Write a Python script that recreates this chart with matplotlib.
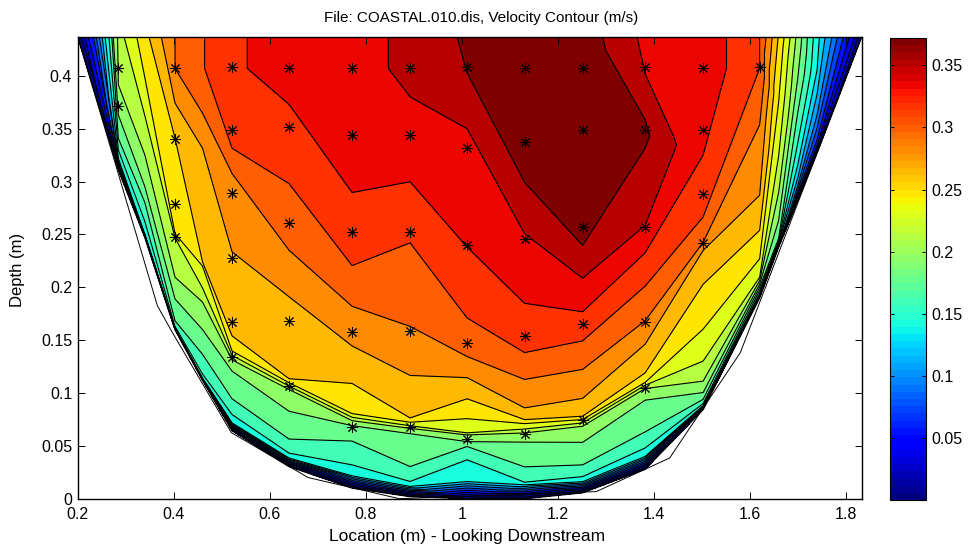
import numpy as np
import matplotlib
matplotlib.use('Agg')
import matplotlib.pyplot as plt
import matplotlib.tri as mtri
import matplotlib.cm as cm
import matplotlib.colors as colors

plt.rcParams['font.family'] = ['Liberation Sans', 'DejaVu Sans']

# contour levels
levels = [-0.001, 0.017, 0.034, 0.05, 0.067, 0.084, 0.101, 0.118, 0.135, 0.152, 0.169, 0.186,
          0.203, 0.22, 0.237, 0.254, 0.27, 0.287, 0.304, 0.321, 0.338, 0.355, 0.38]
line_levels = levels[1:-1]

# velocity along the water surface, left and right of the stations
top_left_x = [0.2, 0.2104, 0.222, 0.2325, 0.245, 0.257, 0.265, 0.271, 0.274]
top_left_v = [0, 0.025, 0.05, 0.067, 0.101, 0.135, 0.152, 0.169, 0.186]
top_mid_x = [0.2965, 0.323, 0.3485, 0.374]
top_mid_v = [0.22, 0.237, 0.254, 0.27]
top_right_x = [1.634, 1.6465, 1.659, 1.6715, 1.684, 1.696, 1.708, 1.72, 1.7325, 1.745, 1.757, 1.771,
               1.7825, 1.795, 1.8075, 1.819, 1.833]
top_right_v = [0.287, 0.27, 0.254, 0.237, 0.22, 0.203, 0.186, 0.169, 0.152, 0.135, 0.118, 0.101,
               0.084, 0.067, 0.05, 0.033, 0]

# depth / velocity pairs per column
x_028, d_028 = 0.2846, [0.437, 0.3916, 0.363, 0.341, 0.33, 0.322, 0.318, 0.314, 0.311]
v_028 = [0.206, 0.203, 0.186, 0.169, 0.152, 0.135, 0.1, 0.05, 0]
x_034, d_034 = 0.34, [0.398, 0.362, 0.325, 0.295, 0.28, 0.262, 0.25, 0.247]
v_034 = [0.237, 0.22, 0.203, 0.186, 0.169, 0.152, 0.135, 0]
x_040, d_040 = 0.4027, [0.437, 0.407, 0.3742, 0.341, 0.2507, 0.2466, 0.2095, 0.1889, 0.1683, 0.163, 0.161, 0.16]
v_040 = [0.287, 0.287, 0.27, 0.254, 0.237, 0.22, 0.203, 0.186, 0.169, 0.152, 0.135, 0]
x_046, d_046 = 0.46, [0.437, 0.407, 0.3647, 0.3315, 0.224, 0.22, 0.1993, 0.186, 0.16, 0.1366, 0.118, 0.114, 0.112]
v_046 = [0.303, 0.303, 0.287, 0.27, 0.254, 0.237, 0.22, 0.203, 0.186, 0.169, 0.152, 0.135, 0]
x_052, d_052 = 0.5215, [0.437, 0.407, 0.3315, 0.3076, 0.2335, 0.154, 0.1397, 0.1356, 0.1312, 0.1207, 0.0945, 0.0796, 0.0717, 0.0643]
v_052 = [0.317, 0.317, 0.304, 0.287, 0.27, 0.254, 0.237, 0.22, 0.203, 0.186, 0.169, 0.152, 0.135, 0]
x_064, d_064 = 0.6402, [0.437, 0.407, 0.373, 0.298, 0.235, 0.191, 0.1135, 0.1097, 0.1065, 0.1033, 0.0827, 0.0564, 0.0431, 0.0385, 0.0304]
v_064 = [0.332, 0.332, 0.321, 0.304, 0.287, 0.27, 0.254, 0.237, 0.22, 0.203, 0.186, 0.169, 0.152, 0.135, 0]
x_077, d_077 = 0.7715, [0.437, 0.407, 0.2896, 0.2205, 0.182, 0.1445, 0.109, 0.0805, 0.077, 0.0738, 0.0691, 0.0545, 0.032, 0.0216, 0.0101]
v_077 = [0.333, 0.333, 0.321, 0.304, 0.287, 0.27, 0.254, 0.237, 0.22, 0.203, 0.186, 0.169, 0.152, 0.135, 0]
x_089, d_089 = 0.8923, [0.437, 0.407, 0.38, 0.2998, 0.242, 0.163, 0.1166, 0.0764, 0.0723, 0.069, 0.0665, 0.0615, 0.0304, 0.0163, 0.0116, 0.002]
v_089 = [0.341, 0.341, 0.338, 0.321, 0.304, 0.287, 0.27, 0.254, 0.237, 0.22, 0.203, 0.186, 0.169, 0.152, 0.135, 0]
x_101, d_101 = 1.011, [0.437, 0.4027, 0.35, 0.238, 0.171, 0.1345, 0.1145, 0.0945, 0.0757, 0.0623, 0.0603, 0.054, 0.0494, 0.0368, 0.0162, 0]
v_101 = [0.358, 0.355, 0.338, 0.321, 0.304, 0.287, 0.27, 0.254, 0.237, 0.22, 0.203, 0.186, 0.169, 0.152, 0.135, 0]
x_113, d_113 = 1.1308, [0.437, 0.2992, 0.2507, 0.1848, 0.1382, 0.1128, 0.0859, 0.0748, 0.071, 0.0659, 0.0622, 0.0535, 0.0301, 0.0156, 0.0131, 0]
v_113 = [0.372, 0.355, 0.338, 0.321, 0.304, 0.287, 0.27, 0.254, 0.237, 0.22, 0.203, 0.186, 0.169, 0.152, 0.135, 0]
x_125, d_125 = 1.2517, [0.437, 0.2396, 0.2085, 0.1768, 0.1493, 0.1223, 0.0949, 0.078, 0.0749, 0.0717, 0.0685, 0.0533, 0.032, 0.0209, 0.0161, 0.0056]
v_125 = [0.365, 0.355, 0.338, 0.321, 0.304, 0.287, 0.27, 0.254, 0.237, 0.22, 0.203, 0.186, 0.169, 0.152, 0.135, 0]
x_138, d_138 = 1.3819, [0.437, 0.4018, 0.3584, 0.345, 0.3315, 0.2586, 0.2326, 0.201, 0.1683, 0.1461, 0.119, 0.11, 0.1073, 0.1042, 0.0932, 0.0632, 0.048, 0.04, 0.0279]
v_138 = [0.334, 0.338, 0.355, 0.358, 0.355, 0.338, 0.321, 0.304, 0.287, 0.27, 0.254, 0.237, 0.22, 0.203, 0.186, 0.169, 0.152, 0.135, 0]
x_150, d_150 = 1.5027, [0.437, 0.407, 0.325, 0.2665, 0.2425, 0.2348, 0.2028, 0.1604, 0.1302, 0.1112, 0.1004, 0.094, 0.09, 0.088, 0.0843]
v_150 = [0.333, 0.333, 0.321, 0.304, 0.287, 0.27, 0.254, 0.237, 0.22, 0.203, 0.186, 0.169, 0.152, 0.135, 0]
x_162, d_162 = 1.6204, [0.437, 0.407, 0.3536, 0.287, 0.2538, 0.2269, 0.2095, 0.2063, 0.203, 0.2, 0.197, 0.194, 0.19]
v_162 = [0.304, 0.304, 0.287, 0.27, 0.254, 0.237, 0.22, 0.203, 0.186, 0.169, 0.152, 0.135, 0]
x_166, d_166 = 1.66, [0.3752, 0.3243, 0.2896, 0.2633, 0.2462, 0.244, 0.243, 0.242, 0.238]
v_166 = [0.237, 0.22, 0.203, 0.186, 0.169, 0.152, 0.135, 0.118, 0]
x_170, d_170 = 1.7, [0.3983, 0.3657, 0.3369, 0.3161, 0.3037, 0.2966, 0.2925, 0.2893, 0.2871, 0.2852, 0.2819]
v_170 = [0.186, 0.169, 0.152, 0.135, 0.118, 0.101, 0.084, 0.067, 0.05, 0.033, 0]
x_174, d_174 = 1.74, [0.4055, 0.3825, 0.3628, 0.3505, 0.3397, 0.334, 0.331, 0.327]
v_174 = [0.135, 0.118, 0.101, 0.084, 0.067, 0.05, 0.033, 0]

# measurement points (stars)
star_x = [0.2846, 0.2846,
          0.4027, 0.4027, 0.4027, 0.4027,
          0.5215, 0.5215, 0.5215, 0.5215, 0.5215, 0.5215,
          0.6402, 0.6402, 0.6402, 0.6402, 0.6402,
          0.7715, 0.7715, 0.7715, 0.7715, 0.7715,
          0.8923, 0.8923, 0.8923, 0.8923, 0.8923,
          1.011, 1.011, 1.011, 1.011, 1.011,
          1.1308, 1.1308, 1.1308, 1.1308, 1.1308,
          1.2517, 1.2517, 1.2517, 1.2517, 1.2517,
          1.3819, 1.3819, 1.3819, 1.3819, 1.3819,
          1.5027, 1.5027, 1.5027, 1.5027,
          1.6204]
star_d = [0.407, 0.371,
          0.407, 0.34, 0.279, 0.248,
          0.408, 0.349, 0.289, 0.228, 0.167, 0.134,
          0.407, 0.352, 0.261, 0.168, 0.107,
          0.407, 0.344, 0.252, 0.158, 0.068,
          0.407, 0.344, 0.252, 0.159, 0.068,
          0.408, 0.332, 0.24, 0.147, 0.056,
          0.407, 0.337, 0.246, 0.154, 0.061,
          0.407, 0.349, 0.257, 0.165, 0.074,
          0.408, 0.349, 0.257, 0.167, 0.105,
          0.407, 0.349, 0.288, 0.242,
          0.408]

# thin outline of the channel bed
bed_x = [0.2, 0.366, 0.4, 0.52, 0.68, 0.87, 1.28, 1.433, 1.58, 1.614, 1.833]
bed_d = [0.437, 0.1825, 0.155, 0.0625, 0.02, 0.0, 0.0067, 0.0385, 0.138, 0.178, 0.437]

px, py, pv = [], [], []


def add_nodes(xs, ds, vs):
    start = len(px)
    px.extend(xs)
    py.extend(ds)
    pv.extend(vs)
    return list(range(start, len(px)))


def add_col(x, d, v):
    return add_nodes([x] * len(d), d, v)


def stitch(a, b, tris, weight=0.15):
    # walk down two neighbouring chains of nodes, joining nodes of like velocity
    i, j = 0, 0
    while i < len(a) - 1 or j < len(b) - 1:
        costs = []
        for ni, nj in ((i + 1, j), (i, j + 1)):
            if ni >= len(a) or nj >= len(b):
                costs.append(np.inf)
                continue
            n1, n2, n3 = a[i], b[j], a[ni] if ni != i else b[nj]
            area = abs((px[n2] - px[n1]) * (py[n3] - py[n1]) - (px[n3] - px[n1]) * (py[n2] - py[n1]))
            cost = abs(pv[a[ni]] - pv[b[nj]]) + weight * abs(py[a[ni]] - py[b[nj]])
            costs.append(np.inf if area < 1e-10 else cost)
        if costs[0] <= costs[1]:
            tris.append([a[i], b[j], a[i + 1]])
            i += 1
        else:
            tris.append([a[i], b[j], b[j + 1]])
            j += 1


top_l = add_nodes(top_left_x, [0.437] * len(top_left_x), top_left_v)
top_m = add_nodes(top_mid_x, [0.437] * len(top_mid_x), top_mid_v)
top_r = add_nodes(top_right_x, [0.437] * len(top_right_x), top_right_v)

c028 = add_col(x_028, d_028, v_028)
c034 = add_col(x_034, d_034, v_034)
c040 = add_col(x_040, d_040, v_040)
c046 = add_col(x_046, d_046, v_046)
c052 = add_col(x_052, d_052, v_052)
c064 = add_col(x_064, d_064, v_064)
c077 = add_col(x_077, d_077, v_077)
c089 = add_col(x_089, d_089, v_089)
c101 = add_col(x_101, d_101, v_101)
c113 = add_col(x_113, d_113, v_113)
c125 = add_col(x_125, d_125, v_125)
c138 = add_col(x_138, d_138, v_138)
c150 = add_col(x_150, d_150, v_150)
c162 = add_col(x_162, d_162, v_162)
c166 = add_col(x_166, d_166, v_166)
c170 = add_col(x_170, d_170, v_170)
c174 = add_col(x_174, d_174, v_174)

triangles = []
stitch(top_l[::-1], c028, triangles)
stitch([top_m[1], top_m[0]] + c028, [top_m[2]] + c034, triangles)
stitch([top_m[3], top_m[2]] + c034, c040, triangles)
middle = [c040, c046, c052, c064, c077, c089, c101, c113, c125, c138, c150, c162]
for left, right in zip(middle[:-1], middle[1:]):
    stitch(left, right, triangles)
stitch([top_r[1], top_r[0]] + c162, [top_r[2]] + c166, triangles)
stitch([top_r[4], top_r[3], top_r[2]] + c166, [top_r[5]] + c170, triangles)
stitch([top_r[8], top_r[7], top_r[6], top_r[5]] + c170, [top_r[9]] + c174, triangles)
stitch([top_r[9]] + c174, top_r[10:], triangles)

wall_x = [0.2] + [px[c[-1]] for c in [c028, c034] + middle + [c166, c170, c174]] + [1.833]
wall_d = [0.437] + [py[c[-1]] for c in [c028, c034] + middle + [c166, c170, c174]] + [0.437]

jet = plt.get_cmap('jet', 64)
jet_colors = [jet(i) for i in range(64)]
band_colors = [jet_colors[i] for i in range(0, 64, 3)]

fig = plt.figure(figsize=(9.68, 5.5), dpi=100)
ax = fig.add_axes([77.7 / 968, 51.3 / 550, 784 / 968, 462 / 550])

tri = mtri.Triangulation(np.array(px), np.array(py), np.array(triangles))
ax.tricontourf(tri, pv, levels=levels, colors=band_colors)
ax.tricontour(tri, pv, levels=line_levels, colors='k', linewidths=0.8, linestyles='solid')
ax.plot(wall_x, wall_d, color='k', lw=1.0)
ax.plot(bed_x, bed_d, color='k', lw=0.7)
ax.plot(star_x, star_d, linestyle='none', marker=(8, 2, 0), color='k', ms=8, mew=0.7)

ax.set_xlim(0.2, 1.833)
ax.set_ylim(0, 0.437)
ax.set_xticks([0.2, 0.4, 0.6, 0.8, 1, 1.2, 1.4, 1.6, 1.8])
ax.set_xticklabels(['0.2', '0.4', '0.6', '0.8', '1', '1.2', '1.4', '1.6', '1.8'])
ax.set_yticks([0, 0.05, 0.1, 0.15, 0.2, 0.25, 0.3, 0.35, 0.4])
ax.set_yticklabels(['0', '0.05', '0.1', '0.15', '0.2', '0.25', '0.3', '0.35', '0.4'])
ax.tick_params(direction='in', top=True, right=True, length=5, width=0.7, labelsize=11.5)
ax.tick_params(axis='x', pad=6)
ax.tick_params(axis='y', pad=4)
for sp in ax.spines.values():
    sp.set_linewidth(1.0)

fig.text(467.5 / 968, 1 - 536 / 550, 'Location (m) - Looking Downstream', fontsize=12.5, ha='center', va='center')
fig.text(18 / 968, 1 - 270 / 550, 'Depth (m)', fontsize=12, rotation=90, ha='center', va='center')
fig.text(481.5 / 968, 1 - 18 / 550, 'File: COASTAL.010.dis, Velocity Contour (m/s)', fontsize=11, ha='center', va='center')

cax = fig.add_axes([890 / 968, 50 / 550, 36 / 968, 462 / 550])
cmap64 = colors.ListedColormap(jet_colors)
sm = cm.ScalarMappable(norm=colors.Normalize(0, 0.372), cmap=cmap64)
cb = fig.colorbar(sm, cax=cax)
cb.set_ticks([0.05, 0.1, 0.15, 0.2, 0.25, 0.3, 0.35])
cb.set_ticklabels(['0.05', '0.1', '0.15', '0.2', '0.25', '0.3', '0.35'])
cax.tick_params(direction='in', left=True, right=True, length=3, width=0.7, labelsize=11.5, pad=4)

fig.savefig('out.png', dpi=100)
